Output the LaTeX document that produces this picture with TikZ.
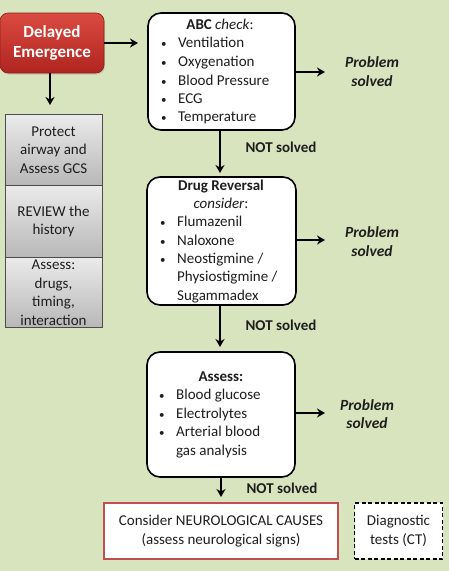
\documentclass[tikz,border=0pt]{standalone}
\usepackage{fontspec}
\setmainfont{Carlito}
\usetikzlibrary{arrows.meta,shadows}
\definecolor{bg}{HTML}{D8E4BE}
\definecolor{redtop}{HTML}{DA4A40}
\definecolor{redbot}{HTML}{B02520}
\definecolor{neuro}{HTML}{C0504D}
\definecolor{ink}{HTML}{1E1E1E}
\tikzset{
  flowbox/.style={draw=black, line width=1.6pt, rounded corners=13pt, fill=white, inner sep=0pt},
  graybox/.style={draw=black!70, line width=0.8pt, top color=black!8, bottom color=black!28, inner sep=0pt,
     minimum width=97pt, text=ink, align=center, font=\fontsize{15}{18.5}\selectfont},
  arr/.style={-{Stealth[length=8pt,width=9pt]}, line width=2pt},
  txt/.style={text=ink, text height=10.5pt, text depth=3.5pt, inner sep=0pt},
  bl/.style={txt, anchor=west},
  ttl/.style={txt, anchor=center},
  solvedtxt/.style={text=ink, inner sep=0pt, align=center, font=\fontsize{15.5}{18.5}\selectfont\bfseries\itshape},
  notsolved/.style={txt, font=\fontsize{15}{17}\selectfont\bfseries}
}
\newcommand{\bul}[1]{\makebox[18pt][l]{\hspace{1pt}{\fontsize{11}{11}\selectfont\textbullet}}#1}
\begin{document}
\begin{tikzpicture}[x=1pt,y=-1pt, font=\fontsize{15}{17}\selectfont]
\useasboundingbox (0,0) rectangle (449,571);
\fill[bg] (0,0) rectangle (449,571);

% Delayed emergence
\node[draw=redbot!80!black, line width=0.6pt, rounded corners=8pt, top color=redtop, bottom color=redbot,
      minimum width=104pt, minimum height=60pt, inner sep=0pt, text=white, align=center,
      font=\fontsize{17}{20}\selectfont\bfseries, drop shadow={opacity=0.25, shadow xshift=1pt, shadow yshift=-1.5pt}]
      (de) at (52,43) {Delayed\\Emergence};
\coordinate (deR) at (138,43);
\coordinate (deD) at (50,105);
\draw[arr] (de.east) -- (deR);
\draw[arr] (de.south -| deD) -- (deD);

% gray boxes
\node[graybox, minimum height=71pt] (g1) at (53.5,150) {Protect\\airway and\\Assess GCS};
\node[graybox, minimum height=72pt] (g2) at (53.5,221.5) {REVIEW the\\history};
\node[graybox, minimum height=70pt] (g3) at (53.5,292.5) {Assess:\\drugs,\\timing,\\interaction};

% ABC box
\node[flowbox, minimum width=147pt, minimum height=117pt] (abc) at (221.5,71.5) {};
\node[ttl] (abct) at (220,26) {\textbf{ABC} \textit{check}:};
\node[bl] (abc1) at (160,44) {\bul{Ventilation}};
\node[bl] (abc2) at (160,63) {\bul{Oxygenation}};
\node[bl] (abc3) at (160,82) {\bul{Blood Pressure}};
\node[bl] (abc4) at (160,100) {\bul{ECG}};
\node[bl] (abc5) at (160,118) {\bul{Temperature}};
\node[solvedtxt] (ps1) at (372,71.5) {Problem\\solved};
\coordinate (abcR) at (325,72);
\draw[arr] (abc.east |- abcR) -- (abcR);

% Drug reversal box
\node[flowbox, minimum width=149pt, minimum height=128pt] (drug) at (221.5,241) {};
\node[ttl] (drugt) at (221,187) {\textbf{Drug Reversal}};
\node[ttl] (drugt2) at (221,204.5) {\textit{consider}:};
\node[bl] (drug1) at (159,223) {\bul{Flumazenil}};
\node[bl] (drug2) at (159,242) {\bul{Naloxone}};
\node[bl] (drug3) at (159,260) {\bul{Neostigmine /}};
\node[bl] (drug4) at (177,278) {Physiostigmine /};
\node[bl] (drug5) at (177,297) {Sugammadex};
\node[solvedtxt] (ps2) at (372,241.5) {Problem\\solved};
\coordinate (drugR) at (325,240);
\draw[arr] (drug.east |- drugR) -- (drugR);

% Assess box
\node[flowbox, minimum width=148pt, minimum height=125pt] (ass) at (221,414.5) {};
\node[ttl] (asst) at (221,378) {\textbf{Assess:}};
\node[bl] (ass1) at (158,396) {\bul{Blood glucose}};
\node[bl] (ass2) at (158,415) {\bul{Electrolytes}};
\node[bl] (ass3) at (158,433) {\bul{Arterial blood}};
\node[bl] (ass4) at (176,452) {gas analysis};
\node[solvedtxt] (ps3) at (367,414) {Problem\\solved};
\coordinate (assR) at (325,413);
\draw[arr] (ass.east |- assR) -- (assR);

% vertical arrows
\coordinate (d1) at (220,173);
\coordinate (d2) at (220,347);
\coordinate (d3) at (221,497);
\draw[arr] (abc.south -| d1) -- (d1);
\draw[arr] (drug.south -| d2) -- (d2);
\draw[arr] (ass.south -| d3) -- (d3);
\node[notsolved] (ns1) at (281,149) {NOT solved};
\node[notsolved] (ns2) at (281,327) {NOT solved};
\node[notsolved] (ns3) at (282,490) {NOT solved};

% bottom boxes
\node[draw=neuro, line width=1.3pt, fill=white, minimum width=234pt, minimum height=56pt, inner sep=0pt,
      text=ink, align=center, font=\fontsize{15}{18.5}\selectfont] (neu) at (221,531)
      {Consider NEUROLOGICAL CAUSES\\(assess neurological signs)};
\node[draw=black, dash pattern=on 4pt off 2.5pt, line width=1.4pt, fill=white, minimum width=88pt, minimum height=56pt, inner sep=0pt,
      text=ink, align=center, font=\fontsize{15}{18.5}\selectfont] (diag) at (398.5,531)
      {Diagnostic\\tests (CT)};
\end{tikzpicture}
\end{document}
